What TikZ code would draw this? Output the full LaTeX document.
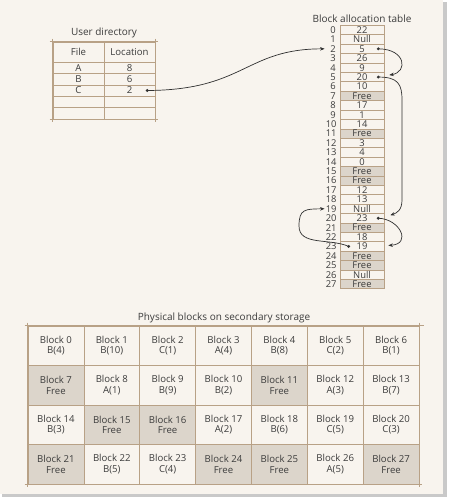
\documentclass[tikz,border=0pt]{standalone}
\usepackage{fontspec}
\setmainfont{Open Sans}
\usetikzlibrary{arrows.meta,calc}
\definecolor{bg}{HTML}{F8F4EE}
\definecolor{rule}{HTML}{B8A186}
\definecolor{freefill}{HTML}{DCD5CB}
\definecolor{ink}{HTML}{3C3C3C}
\definecolor{wire}{HTML}{303030}
\definecolor{shadowc}{HTML}{C9C9C9}
\begin{document}
\begin{tikzpicture}[x=1pt,y=-1pt,
  every node/.style={text=ink},
  txt/.style={font=\fontsize{10}{12}\selectfont, inner sep=0pt},
  batused/.style={draw=rule, line width=0.6pt, fill=bg, minimum width=44pt, minimum height=9.41pt, inner sep=0pt, font=\fontsize{9.4}{9}\selectfont},
  batfree/.style={batused, fill=freefill},
  batlbl/.style={anchor=east, text width=10pt, align=right, inner sep=1pt, font=\fontsize{9.4}{9}\selectfont},
  udcell/.style={draw=rule, line width=0.6pt, minimum width=51pt, inner sep=0pt, font=\fontsize{9.6}{10}\selectfont},
  pbused/.style={draw=rule, line width=0.7pt, fill=bg, minimum width=55.86pt, minimum height=39.5pt, inner sep=0pt, align=center, font=\fontsize{9.6}{10.5}\selectfont},
  pbfree/.style={pbused, fill=freefill},
  frame/.style={draw=rule, line width=0.7pt},
  wirestyle/.style={draw=wire, line width=0.7pt, -{Stealth[length=4.5pt,width=3.5pt]}},
  dot/.style={fill=wire}
]
\useasboundingbox (0,0) rectangle (450,501);
\fill[white] (0,0) rectangle (450,501);
\fill[shadowc] (2,2) rectangle (447,497);
\fill[bg] (0,0) rectangle (443,494);

% ---- User directory ----
\node[txt] (udtitle) at (104,33) {User directory};
\node[udcell, minimum height=20pt] (udh1) at (78.5,52) {File};
\node[udcell, minimum height=20pt] (udh2) at (129.5,52) {Location};
\foreach \f/\l [count=\i] in {A/8,B/6,C/2,/,/} {
  \node[udcell, minimum height=11.4pt] (ud\i a) at (78.5,{62+11.4*(\i-0.5)}) {\f};
  \node[udcell, minimum height=11.4pt] (ud\i b) at (129.5,{62+11.4*(\i-0.5)}) {\l};
}
\draw[frame] ($(udh1.north west)+(-3,0)$) -- ($(udh2.north east)+(3,0)$);
\draw[frame] ($(ud5a.south west)+(-3,0)$) -- ($(ud5b.south east)+(3,0)$);
\draw[frame] ($(udh1.north west)+(0,-3)$) -- ($(ud5a.south west)+(0,3)$);
\draw[frame] ($(udh2.north east)+(0,-3)$) -- ($(ud5b.south east)+(0,3)$);

% ---- Block allocation table ----
\node[txt] (battitle) at (362,19) {Block allocation table};
\foreach \v/\s [count=\i from 0] in {22/batused,Null/batused,5/batused,26/batused,9/batused,20/batused,10/batused,Free/batfree,17/batused,1/batused,14/batused,Free/batfree,3/batused,4/batused,0/batused,Free/batfree,Free/batfree,12/batused,13/batused,Null/batused,23/batused,Free/batfree,18/batused,19/batused,Free/batfree,Free/batfree,Null/batused,Free/batfree} {
  \node[\s] (bat\i) at (362,{30+9.41*\i}) {\v};
  \node[batlbl] (lbl\i) at (337,{30+9.41*\i}) {\i};
}

% ---- Physical blocks ----
\node[txt] (pbtitle) at (224,318) {Physical blocks on secondary storage};
\foreach \t/\s [count=\n from 0] in {B(4)/pbused,B(10)/pbused,C(1)/pbused,A(4)/pbused,B(8)/pbused,C(2)/pbused,B(1)/pbused,
  Free/pbfree,A(1)/pbused,B(9)/pbused,B(2)/pbused,Free/pbfree,A(3)/pbused,B(7)/pbused,
  B(3)/pbused,Free/pbfree,Free/pbfree,A(2)/pbused,B(6)/pbused,C(5)/pbused,C(3)/pbused,
  Free/pbfree,B(5)/pbused,C(4)/pbused,Free/pbfree,Free/pbfree,A(5)/pbused,Free/pbfree} {
  \pgfmathtruncatemacro{\c}{mod(\n,7)}
  \pgfmathtruncatemacro{\r}{div(\n,7)}
  \node[\s] (pb\n) at ({28+55.86*(\c+0.5)},{326+39.5*(\r+0.5)}) {Block \n\\\t};
}
\draw[frame] ($(pb0.north west)+(-3,0)$) -- ($(pb6.north east)+(5,0)$);
\draw[frame] ($(pb21.south west)+(-3,0)$) -- ($(pb27.south east)+(3,0)$);
\draw[frame] ($(pb0.north west)+(0,-3)$) -- ($(pb21.south west)+(0,3)$);
\draw[frame] ($(pb6.north east)+(0,-3)$) -- ($(pb27.south east)+(0,3)$);

% ---- connectors ----
\coordinate (dC) at ($(ud3b.east)+(-8,0)$);
\coordinate (d2) at ($(bat2.east)+(-6,0)$);
\coordinate (d5) at ($(bat5.east)+(-6,0)$);
\coordinate (d20) at ($(bat20.east)+(-6,0)$);
\coordinate (d23) at ($(bat23.west)+(9,0)$);
\coordinate (t5) at ($(bat5.east)+(5,-2)$);
\coordinate (t20) at ($(bat20.east)+(6,-3)$);
\coordinate (t23) at ($(bat23.east)+(4,-1)$);

\draw[wirestyle] (dC) .. controls (245,90) and (245,49) .. (lbl2.west);
\draw[wirestyle] (d2) .. controls (406,49) and (408,72) .. (t5);
\draw[wirestyle] (d5) .. controls (398,77) and (402,84) .. (402,100) -- (402,200) .. controls (402,210) and (397,213) .. (t20);
\draw[wirestyle] (d20) .. controls (400,219) and (412,244) .. (t23);
\draw[wirestyle] (d23) .. controls (330,238) and (299,246) .. (299,226) .. controls (299,209) and (305,209) .. (lbl19.west);
\foreach \p in {dC,d2,d5,d20,d23} \fill[dot] (\p) circle (1.6);
\end{tikzpicture}
\end{document}
